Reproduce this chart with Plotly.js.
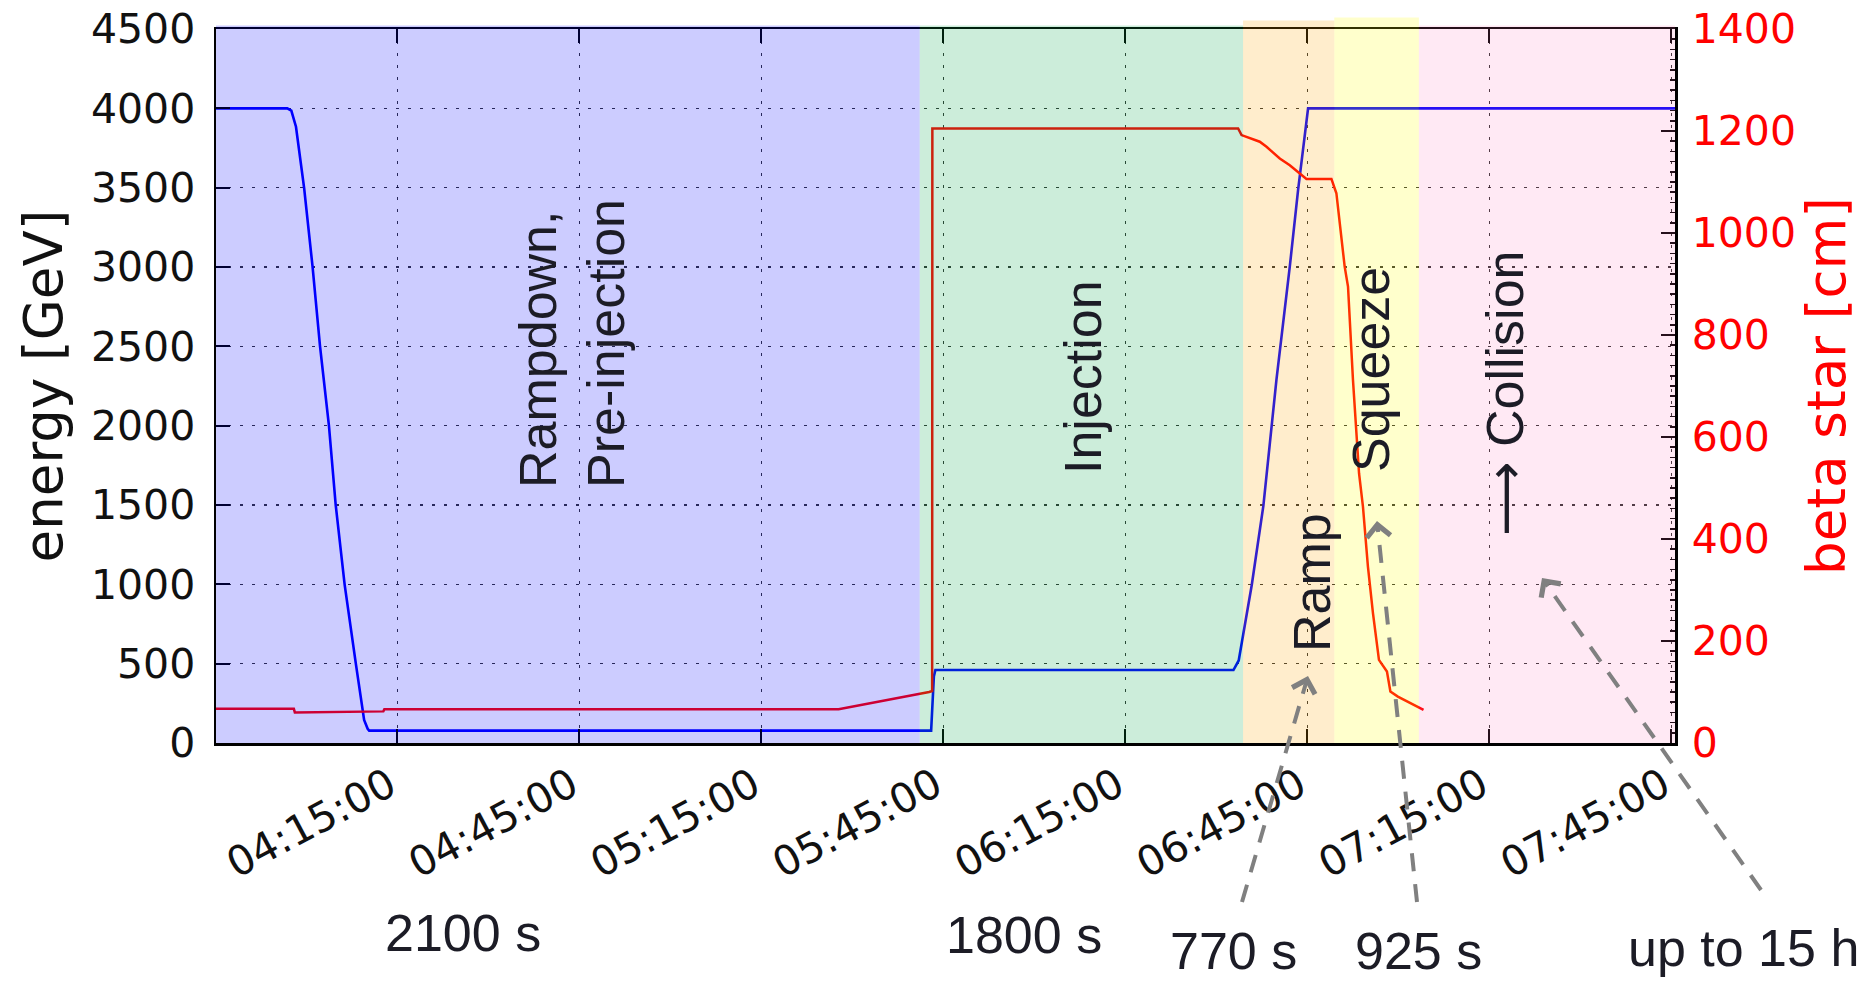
<!DOCTYPE html>
<html>
<head>
<meta charset="utf-8">
<script src="https://cdn.plot.ly/plotly-3.0.1.min.js"></script>
<style>
  html, body { margin: 0; padding: 0; background: #fff; }
  #chart { width: 1870px; height: 981px; }
</style>
</head>
<body>
<div id="chart"></div>
<script>
// ---------------- data ----------------
const DAY = '2012-06-01 ';

// beam energy (left axis, GeV)
const energyTime = ['03:45:05','03:56:50','03:57:30','03:58:16','03:59:37','04:01:00','04:02:14','04:03:42','04:04:49','04:06:17','04:08:08','04:08:58','04:09:30','04:10:05','04:10:20',
                    '05:42:58','05:43:25','05:43:40','06:32:48','06:33:40','06:34:14','06:35:49','06:37:44','06:39:06','06:39:53','06:42:05','06:43:27','06:45:06','07:45:35'];
const energyGeV  = [4000,4000,3985,3884,3496,3002,2500,2000,1500,1000,500,271,145,90,78,
                    78,420,460,460,520,645,996,1496,1998,2288,3002,3485,4000,4000];

// beta star (right axis, cm)
const betaTime = ['03:45:05','03:57:55','03:58:05','04:12:40','04:12:50','05:27:43','05:42:38','05:43:08','05:43:10','06:33:34','06:34:08','06:37:08','06:38:15','06:40:26','06:42:05','06:43:44','06:44:50',
                  '06:48:57','06:49:46','06:51:08','06:51:41','06:52:30','06:53:30','06:54:09','06:54:58','06:55:48','06:56:47','06:58:06','06:58:40','06:59:54','07:04:08'];
const betaCm   = [67,67,60,62,66,66,100,102,1205,1205,1192,1179,1169,1146,1133,1117,1106,
                  1106,1078,934,895,712,529,463,346,254,163,140,101,91,65];

// machine phases
const phaseLabels    = ['Rampdown,<br>Pre-injection','Injection','Ramp','Squeeze','<span style="font-family:DejaVu Sans">\u27F6</span> Collision'];
const phaseStart     = ['03:45:05','05:41:05','06:34:23','06:49:25','07:03:22'];
const phaseEnd       = ['05:41:05','06:34:23','06:49:25','07:03:22','07:45:35'];
const phaseDurations = ['2100 s','1800 s','770 s','925 s','up to 15 h'];

// axes
const xRange = ['03:45:05','07:45:35'];
const xTick0 = '04:15:00';
const xTickStepMs = 30 * 60 * 1000;
const energyRange = [0, 4500];
const betaRange = [0, 1400];

// ---------------- styles / layout geometry ----------------
const phaseColors = ['rgba(0,0,255,0.2)','rgba(0,165,70,0.2)','rgba(255,165,0,0.2)','rgba(255,255,0,0.2)','rgba(255,105,180,0.15)'];
const phaseTop    = [1.005, 1.005, 1.012, 1.016, 1.005];

const W = 1870, H = 981;
const PL = 216, PR = 1675, PT = 29, PB = 743;
const px = X => (X - PL) / (PR - PL);
const py = Y => (PB - Y) / (PB - PT);

// label placement (pixel positions in the figure)
const phaseLabelPos = [[572, 344], [1083, 377], [1312, 583], [1371, 370], [1505, 393]];
const durationPos   = [[463, 933], [1024, 935], [1233, 951], [1418, 951], [1744, 948]];
// dashed pointers: [tailX, tailY, tipX, tipY]
const pointers = [
  [1242, 902, 1308, 676],
  [1417, 902, 1377, 521],
  [1761, 890, 1542, 578]
];

const T = t => DAY + t;

const traces = [
  {
    x: energyTime.map(T), y: energyGeV, type: 'scatter', mode: 'lines',
    line: { color: '#0000ff', width: 2.6 }, yaxis: 'y', hoverinfo: 'skip', showlegend: false
  },
  {
    x: betaTime.map(T), y: betaCm, type: 'scatter', mode: 'lines',
    line: { color: '#ff0000', width: 2.5 }, yaxis: 'y2', hoverinfo: 'skip', showlegend: false
  }
];

const shapes = [];
phaseStart.forEach((s, i) => {
  shapes.push({
    type: 'rect', xref: 'x', yref: 'paper', layer: 'above',
    x0: T(s), x1: T(phaseEnd[i]), y0: 0, y1: phaseTop[i],
    fillcolor: phaseColors[i], line: { width: 0 }
  });
});

const textFont = { family: 'Liberation Sans, Arial, sans-serif', size: 52, color: '#1c1c26' };
const annotations = [];
phaseLabels.forEach((txt, i) => {
  annotations.push({
    text: txt, xref: 'paper', yref: 'paper',
    x: px(phaseLabelPos[i][0]), y: py(phaseLabelPos[i][1]),
    xanchor: 'center', yanchor: 'middle', textangle: -90, align: 'left',
    showarrow: false, font: textFont
  });
});
phaseDurations.forEach((txt, i) => {
  annotations.push({
    text: txt, xref: 'paper', yref: 'paper',
    x: px(durationPos[i][0]), y: py(durationPos[i][1]),
    xanchor: 'center', yanchor: 'middle', showarrow: false,
    font: textFont
  });
});
pointers.forEach(p => {
  const [tx, ty, hx, hy] = p;
  const dx = tx - hx, dy = ty - hy, len = Math.hypot(dx, dy);
  const ux = dx / len, uy = dy / len;
  shapes.push({
    type: 'line', xref: 'paper', yref: 'paper', layer: 'above',
    x0: px(tx), y0: py(ty), x1: px(hx + ux * 10), y1: py(hy + uy * 10),
    line: { color: '#808080', width: 4, dash: '18px,13px' }
  });
  annotations.push({
    text: '', xref: 'paper', yref: 'paper', x: px(hx), y: py(hy),
    showarrow: true, arrowhead: 4, arrowsize: 1.15, arrowwidth: 4, arrowcolor: '#808080',
    ax: ux * 12, ay: uy * 12, standoff: 0
  });
});

const tickFont = { family: 'DejaVu Sans, sans-serif', size: 41, color: '#111' };

const layout = {
  width: W, height: H,
  paper_bgcolor: '#fff', plot_bgcolor: '#fff',
  margin: { l: PL, r: W - PR, t: PT, b: H - PB, pad: 0 },
  showlegend: false,
  xaxis: {
    type: 'date', range: xRange.map(T),
    tick0: T(xTick0), dtick: xTickStepMs, tickformat: '%H:%M:%S',
    tickangle: -28, tickfont: tickFont, ticklabelshift: -8,
    ticks: 'inside', ticklen: 14, tickwidth: 2, tickcolor: '#000',
    showline: true, linecolor: '#000', linewidth: 2.5, mirror: 'ticks',
    showgrid: true, gridcolor: 'rgba(0,0,0,0.8)', gridwidth: 1.6, griddash: '3px,9px',
    zeroline: false
  },
  yaxis: {
    range: energyRange, dtick: 500, tick0: 0,
    tickfont: tickFont, ticklabelstandoff: 10,
    ticks: 'inside', ticklen: 14, tickwidth: 2, tickcolor: '#000',
    showline: true, linecolor: '#000', linewidth: 2.5,
    showgrid: true, gridcolor: 'rgba(0,0,0,0.8)', gridwidth: 1.6, griddash: '3px,9px',
    zeroline: false,
    title: { text: 'energy [GeV]', font: { family: 'DejaVu Sans, sans-serif', size: 53, color: '#111' }, standoff: 12 }
  },
  yaxis2: {
    overlaying: 'y', side: 'right', range: betaRange, dtick: 200, tick0: 0,
    tickfont: { family: 'DejaVu Sans, sans-serif', size: 41, color: '#ff0000' }, ticklabelstandoff: 6,
    ticks: 'inside', ticklen: 14, tickwidth: 2, tickcolor: '#000',
    minor: { dtick: 20, ticks: 'inside', ticklen: 5, tickwidth: 1.5, tickcolor: '#000' },
    showline: true, linecolor: '#000', linewidth: 2.5,
    showgrid: false, zeroline: false,
    title: { text: 'beta star [cm]', font: { family: 'DejaVu Sans, sans-serif', size: 53, color: '#ff0000' }, standoff: 10 }
  },
  shapes: shapes,
  annotations: annotations
};

Plotly.newPlot('chart', traces, layout, { displayModeBar: false, staticPlot: true });
</script>
</body>
</html>
